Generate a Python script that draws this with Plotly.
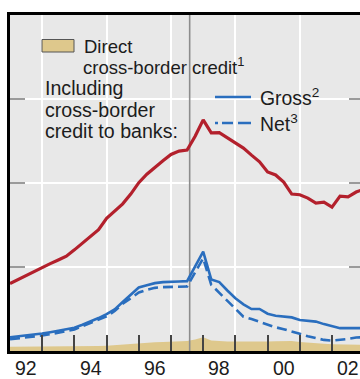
import plotly.graph_objects as go

# Quarterly observation dates (decimal years)
quarters = [1992 + 0.25 * i for i in range(45)]

# Direct cross-border credit (shaded area)
direct = [1.3, 1.3, 1.3, 1.35, 1.35, 1.4, 1.4, 1.4, 1.45, 1.45, 1.5, 1.5,
          1.55, 1.75, 1.95, 2.15, 2.3, 2.45, 2.6, 2.7, 2.8, 2.9, 3.0, 3.4,
          4.1, 3.1, 2.9, 2.8, 2.8, 2.75, 2.8, 2.75, 2.8, 2.9, 2.95, 3.0,
          2.7, 2.45, 2.3, 2.15, 2.0, 1.95, 1.85, 1.8, 1.8]

# Including cross-border credit to banks, gross
gross = [4.1, 4.35, 4.6, 4.9, 5.2, 5.6, 6.0, 6.4, 6.9, 7.8, 8.7, 9.8,
         11.0, 12.4, 14.6, 16.9, 18.9, 19.6, 20.2, 20.5, 20.7, 20.7, 20.8, 25.4,
         29.6, 21.3, 20.5, 18.0, 15.7, 13.9, 12.5, 12.5, 11.1, 10.5, 10.3, 10.0,
         9.2, 9.0, 8.75, 8.0, 7.35, 6.8, 6.8, 6.8, 6.8]

# Including cross-border credit to banks, net
net = [3.5, 3.75, 4.0, 4.3, 4.6, 5.0, 5.45, 5.9, 6.4, 7.4, 8.4, 9.3,
       10.3, 11.9, 14.05, 15.7, 17.4, 18.2, 18.8, 19.0, 19.05, 19.1, 19.2, 23.4,
       27.6, 19.7, 17.4, 15.0, 12.6, 10.2, 9.5, 8.7, 7.9, 7.05, 6.5, 5.9,
       5.1, 4.4, 3.8, 3.3, 3.1, 3.3, 3.6, 4.0, 4.1]

# Total series (red line)
total = [20.1, 21.3, 22.5, 23.8, 24.9, 26.0, 27.1, 28.2, 30.1, 32.1, 34.0, 36.1,
         39.5, 41.5, 43.8, 46.7, 50.1, 52.6, 54.7, 56.6, 58.5, 59.5, 59.8, 63.9,
         68.8, 64.9, 65.0, 63.4, 61.9, 60.4, 58.3, 56.3, 53.3, 52.4, 50.3, 46.7,
         46.5, 45.5, 44.0, 44.3, 42.8, 46.1, 45.9, 47.3, 48.2]

year_labels = ["92", "94", "96", "98", "00", "02"]
label_years = [1992.5, 1994.5, 1996.5, 1998.5, 2000.5, 2002.5]
y_ticks = [0, 25, 50, 75, 100]
crisis_date = 1997.58

X_RANGE = [1992.0, 2002.87]
Y_RANGE = [0, 100]

RED = "#b3202c"
BLUE = "#2a6ebe"
TAN = "#dec88c"
TEXT = "#1c1c1c"
FONT = "Liberation Sans, Arial, sans-serif"

W, H = 360, 379
ML, MR, MT, MB = 10, 0, 15, 28
PW, PH = W - ML - MR, H - MT - MB


def px(x):
    return (x - ML) / PW


def py(y):
    return (H - MB - y) / PH


fig = go.Figure()

fig.add_trace(go.Scatter(x=quarters, y=direct, mode="lines", fill="tozeroy",
                         fillcolor=TAN, line=dict(width=0, color=TAN),
                         hoverinfo="skip"))
fig.add_trace(go.Scatter(x=[crisis_date, crisis_date], y=Y_RANGE, mode="lines",
                         line=dict(color="#8c8c8c", width=1.6), hoverinfo="skip"))
fig.add_trace(go.Scatter(x=quarters, y=net, mode="lines",
                         line=dict(color=BLUE, width=2.6, dash="10px,5px")))
fig.add_trace(go.Scatter(x=quarters, y=gross, mode="lines",
                         line=dict(color=BLUE, width=2.6)))
fig.add_trace(go.Scatter(x=quarters, y=total, mode="lines",
                         line=dict(color=RED, width=3.2)))

shapes = []
# right-hand inner ticks
for v in y_ticks[1:-1]:
    shapes.append(dict(type="line", xref="paper", yref="y", x0=1 - 11 / PW, x1=1,
                       y0=v, y1=v, line=dict(color="#9a9a9a", width=2)))
# legend keys
shapes.append(dict(type="rect", xref="paper", yref="paper",
                   x0=px(42), x1=px(74), y0=py(52), y1=py(39.5),
                   fillcolor=TAN, line=dict(color="#555555", width=1)))
shapes.append(dict(type="line", xref="paper", yref="paper",
                   x0=px(215), x1=px(251), y0=py(97), y1=py(97),
                   line=dict(color=BLUE, width=2.4)))
shapes.append(dict(type="line", xref="paper", yref="paper",
                   x0=px(215), x1=px(251), y0=py(123), y1=py(123),
                   line=dict(color=BLUE, width=2.4, dash="3px,4px,11px,5px,13px")))

annotations = []


def note(text, x, y, size):
    annotations.append(dict(text=text, xref="paper", yref="paper", x=px(x), y=py(y),
                            xanchor="left", yanchor="middle", showarrow=False,
                            font=dict(size=size, color=TEXT, family=FONT)))


note("Direct", 82, 46, 18.5)
note("cross-border credit<sup>1</sup>", 81, 66, 18.5)
note("Including", 43, 88, 19.6)
note("cross-border", 43, 110, 19.6)
note("credit to banks:", 43, 131, 19.6)
note("Gross<sup>2</sup>", 258, 97, 19.4)
note("Net<sup>3</sup>", 258, 123, 19.4)

for yr, lab in zip(label_years, year_labels):
    annotations.append(dict(text=lab, xref="x", yref="paper", x=yr, y=0,
                            xanchor="center", yanchor="top", yshift=-4,
                            showarrow=False,
                            font=dict(size=19.5, color=TEXT, family=FONT)))

fig.update_layout(
    width=W, height=H,
    margin=dict(l=ML, r=MR, t=MT, b=MB, pad=0),
    paper_bgcolor="white",
    plot_bgcolor="#e8e8e8",
    showlegend=False,
    shapes=shapes,
    annotations=annotations,
    xaxis=dict(
        range=X_RANGE, showticklabels=False,
        tickmode="array", tickvals=[1993, 1995, 1997, 1999, 2001],
        ticks="inside", ticklen=16, tickcolor="#444444", tickwidth=1.5,
        showgrid=True, gridcolor="white", gridwidth=1.5,
        minor=dict(tickmode="array", tickvals=[1994, 1996, 1998, 2000, 2002],
                   ticks="inside", ticklen=16, tickcolor="#444444", tickwidth=1.5,
                   showgrid=False),
        showline=True, linecolor="black", linewidth=2.8, mirror=True,
        zeroline=False,
    ),
    yaxis=dict(
        range=Y_RANGE, showticklabels=False,
        tickmode="array", tickvals=y_ticks,
        ticks="inside", ticklen=15, tickcolor="#9a9a9a", tickwidth=2,
        showgrid=True, gridcolor="white", gridwidth=1.5,
        showline=True, linecolor="black", linewidth=2.6,
        zeroline=False,
    ),
)

fig.write_html("out.html", config={"displayModeBar": False})
